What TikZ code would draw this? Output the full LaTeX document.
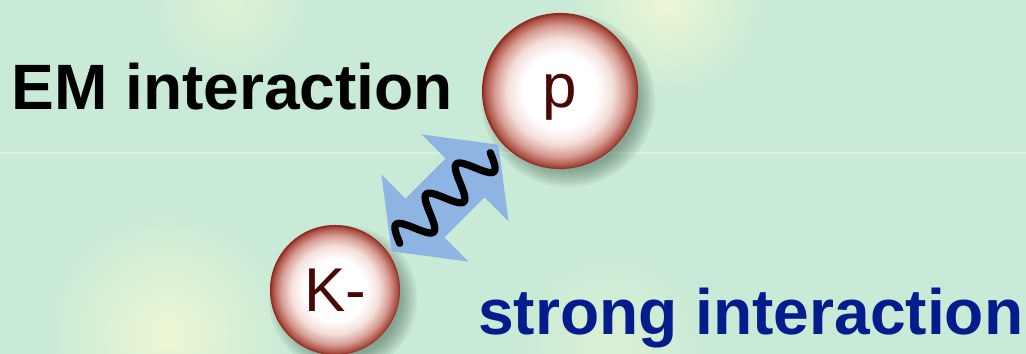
\documentclass[tikz,border=0pt]{standalone}
\usepackage{fontspec}
\setsansfont{Liberation Sans}
\usetikzlibrary{calc}

\definecolor{bgmint}{RGB}{201,234,214}
\definecolor{blobyellow}{RGB}{238,247,212}
\definecolor{seamcol}{RGB}{218,242,228}
\definecolor{shadowgrey}{RGB}{60,90,75}
\definecolor{arrowblue}{RGB}{141,180,226}
\definecolor{ballpink}{RGB}{244,222,218}
\definecolor{ballrose}{RGB}{214,156,146}
\definecolor{ballred}{RGB}{172,80,68}
\definecolor{balledge}{RGB}{138,38,26}
\definecolor{balltext}{RGB}{74,8,5}
\definecolor{strongblue}{RGB}{5,28,140}

\pgfdeclareradialshading{ballshade}{\pgfpointorigin}{color(0bp)=(white); color(12bp)=(white); color(17bp)=(ballpink); color(21bp)=(ballrose); color(24bp)=(ballred); color(25bp)=(balledge); color(50bp)=(balledge)}

\begin{document}
\begin{tikzpicture}[x=0.025cm, y=0.025cm,
    ball/.style={circle, inner sep=0, shading=ballshade, text=balltext, text depth=0pt, font=\sffamily\fontsize{44}{48}\selectfont},
    title/.style={anchor=base west, inner sep=0, font=\sffamily\bfseries\fontsize{45.6}{50}\selectfont},
    wave/.style={line width=5.2pt, line cap=round, black}]
    % background
    \fill[bgmint] (0,0) rectangle (1026,354);
    \useasboundingbox (0,0) rectangle (1026,354);
    \shade[inner color=blobyellow, outer color=bgmint] (167,21) circle (120);
    \shade[inner color=blobyellow, outer color=bgmint] (667,354) circle (95);
    \shade[inner color=blobyellow!60!bgmint, outer color=bgmint] (230,354) circle (80);
    \shade[inner color=blobyellow!50!bgmint, outer color=bgmint] (610,10) circle (90);
    \draw[seamcol, line width=0.8pt] (0,201) -- (1026,201);

    \coordinate (pc) at (560,263);
    \coordinate (kc) at (335,64);

    % soft shadows
    \foreach \s in {0,...,7} {
        \fill[shadowgrey, opacity=0.075] ($(pc)+(8,-9)$) circle ({87-\s*2.4});
        \fill[shadowgrey, opacity=0.075] ($(kc)+(8,-9)$) circle ({74-\s*2.4});
    }

    % double arrow with photon line
    \begin{scope}[shift={(445,156)}, rotate=45]
        \fill[arrowblue] (75.4,0) -- (28.4,61.5) -- (28.4,27.5) -- (-28.4,27.5)
            -- (-28.4,61.5) -- (-75.4,0) -- (-28.4,-61.5) -- (-28.4,-27.5)
            -- (28.4,-27.5) -- (28.4,-61.5) -- cycle;
        \draw[wave] plot[domain=-64:64, samples=120, smooth] (\x, {-16*sin(8.4375*\x)});
    \end{scope}

    \node[ball, minimum size=3.9cm] (p) at (pc) {p};
    \node[ball, minimum size=3.25cm] (K) at (kc) {K-};

    \node[title] (em) at (11,244) {EM interaction};
    \node[title, text=strongblue] (strong) at (478,19) {strong interaction};
\end{tikzpicture}
\end{document}
